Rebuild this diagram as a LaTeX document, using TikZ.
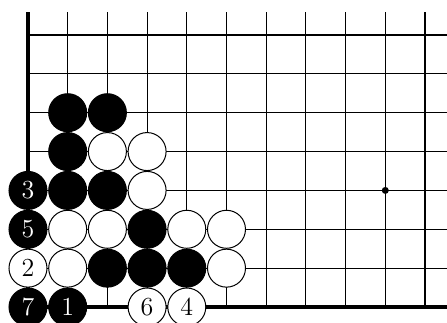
\documentclass[tikz,border=0pt]{standalone}
\usepackage{tikz}

\begin{document}
\begin{tikzpicture}[x=19.85pt, y=19.43pt,
    stone/.style={circle, draw=black, line width=0.5pt, minimum size=19pt, inner sep=0pt, font=\fontsize{13}{13}\selectfont},
    blackstone/.style={stone, fill=black, text=white},
    whitestone/.style={stone, fill=white, text=black}]
  \useasboundingbox (-0.705,-0.386) rectangle (10.554,7.9);

  % Board grid
  \foreach \c in {1,...,10} \draw[line width=0.55pt] (\c,0) -- (\c,7.59);
  \foreach \r in {1,...,7} \draw[line width=0.55pt] (0,\r) -- (10.554,\r);
  \draw[line width=1.9pt] (0,7.59) -- (0,0) -- (10.554,0);
  \fill (9,3) circle (1.75pt);

  % Black stones
  \foreach \c/\r in {1/5, 2/5, 1/4, 1/3, 2/3, 3/2, 2/1, 3/1, 4/1}
    \node[blackstone] (b\c\r) at (\c,\r) {};
  % White stones
  \foreach \c/\r in {2/4, 3/4, 3/3, 1/2, 2/2, 4/2, 5/2, 1/1, 5/1}
    \node[whitestone] (w\c\r) at (\c,\r) {};

  % Numbered moves
  \node[blackstone] (m1) at (1,0) {1};
  \node[whitestone] (m2) at (0,1) {2};
  \node[blackstone] (m3) at (0,3) {3};
  \node[whitestone] (m4) at (4,0) {4};
  \node[blackstone] (m5) at (0,2) {5};
  \node[whitestone] (m6) at (3,0) {6};
  \node[blackstone] (m7) at (0,0) {7};
\end{tikzpicture}
\end{document}
